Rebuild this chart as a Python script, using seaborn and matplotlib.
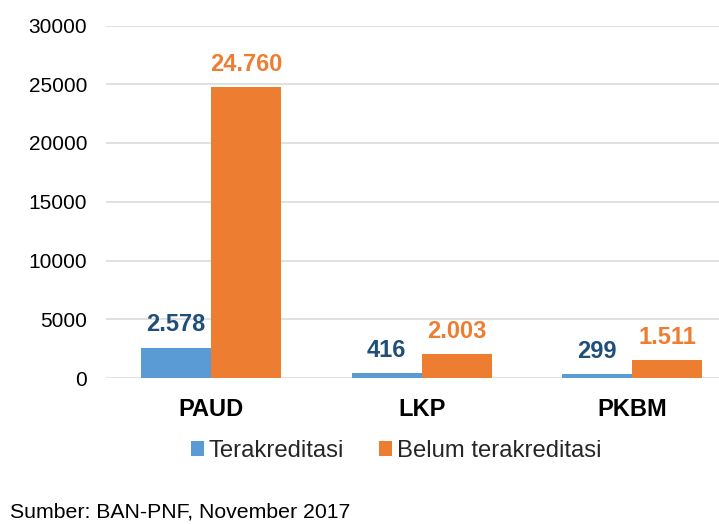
import matplotlib
matplotlib.use("Agg")
import matplotlib.pyplot as plt
import seaborn as sns
import pandas as pd

categories = ["PAUD", "LKP", "PKBM"]
series_names = ["Terakreditasi", "Belum terakreditasi"]
terakreditasi = [2578, 416, 299]
belum_terakreditasi = [24760, 2003, 1511]
y_ticks = [0, 5000, 10000, 15000, 20000, 25000, 30000]
source_text = "Sumber: BAN-PNF, November 2017"

bar_colors = ["#5B9BD5", "#ED7D31"]
label_colors = ["#1F4E79", "#ED7D31"]

df = pd.DataFrame({
    "Kategori": categories * 2,
    "Status": [series_names[0]] * 3 + [series_names[1]] * 3,
    "Jumlah": terakreditasi + belum_terakreditasi,
})

sns.set_theme(style="white")
plt.rcParams["font.family"] = ["Liberation Sans", "DejaVu Sans"]

fig = plt.figure(figsize=(7.19, 5.24), dpi=100)
ax = fig.add_axes([106 / 719, 1 - 378 / 524, (719 - 106) / 719, (378 - 25.5) / 524])

sns.barplot(data=df, x="Kategori", y="Jumlah", hue="Status",
            palette=bar_colors, width=0.665, gap=0, saturation=1,
            edgecolor="none", linewidth=0, ax=ax, legend=True)

ax.set_ylim(0, 30000)
ax.set_yticks(y_ticks)
ax.set_yticklabels([str(t) for t in y_ticks])
ax.set_xlim(-0.5, 2.413)
ax.set_xlabel("")
ax.set_ylabel("")
for s in ax.spines.values():
    s.set_visible(False)
ax.yaxis.grid(True, color="#D9D9D9", linewidth=1.1)
ax.xaxis.grid(False)
ax.set_axisbelow(True)
ax.tick_params(axis="y", length=0, pad=13.5, labelsize=15, labelcolor="#000000")
ax.tick_params(axis="x", length=0, pad=14.2, labelsize=17, labelcolor="#000000")
for t in ax.get_xticklabels():
    t.set_fontweight("bold")

series_values = [terakreditasi, belum_terakreditasi]
for ci, cont in enumerate(ax.containers):
    for bi, patch in enumerate(cont.patches):
        v = series_values[ci][bi]
        lbl = f"{v:,}".replace(",", ".")
        ax.annotate(lbl, (patch.get_x() + patch.get_width() / 2, patch.get_height()),
                    xytext=(0, 11.8), textcoords="offset points",
                    ha="center", va="baseline", fontsize=17, fontweight="bold",
                    color=label_colors[ci])

handles, labels = ax.get_legend_handles_labels()
if ax.get_legend() is not None:
    ax.get_legend().remove()
fig.legend(handles, labels, loc="center", bbox_to_anchor=(396 / 719, 1 - 451 / 524),
           ncol=2, frameon=False, fontsize=17.2, handlelength=0.55, handleheight=0.55,
           handletextpad=0.18, columnspacing=1.5, borderpad=0)

fig.text(10 / 719, 1 - 503 / 524, source_text, ha="left", va="top",
         fontsize=15.3, color="#000000")

fig.savefig("out.png", dpi=100)
